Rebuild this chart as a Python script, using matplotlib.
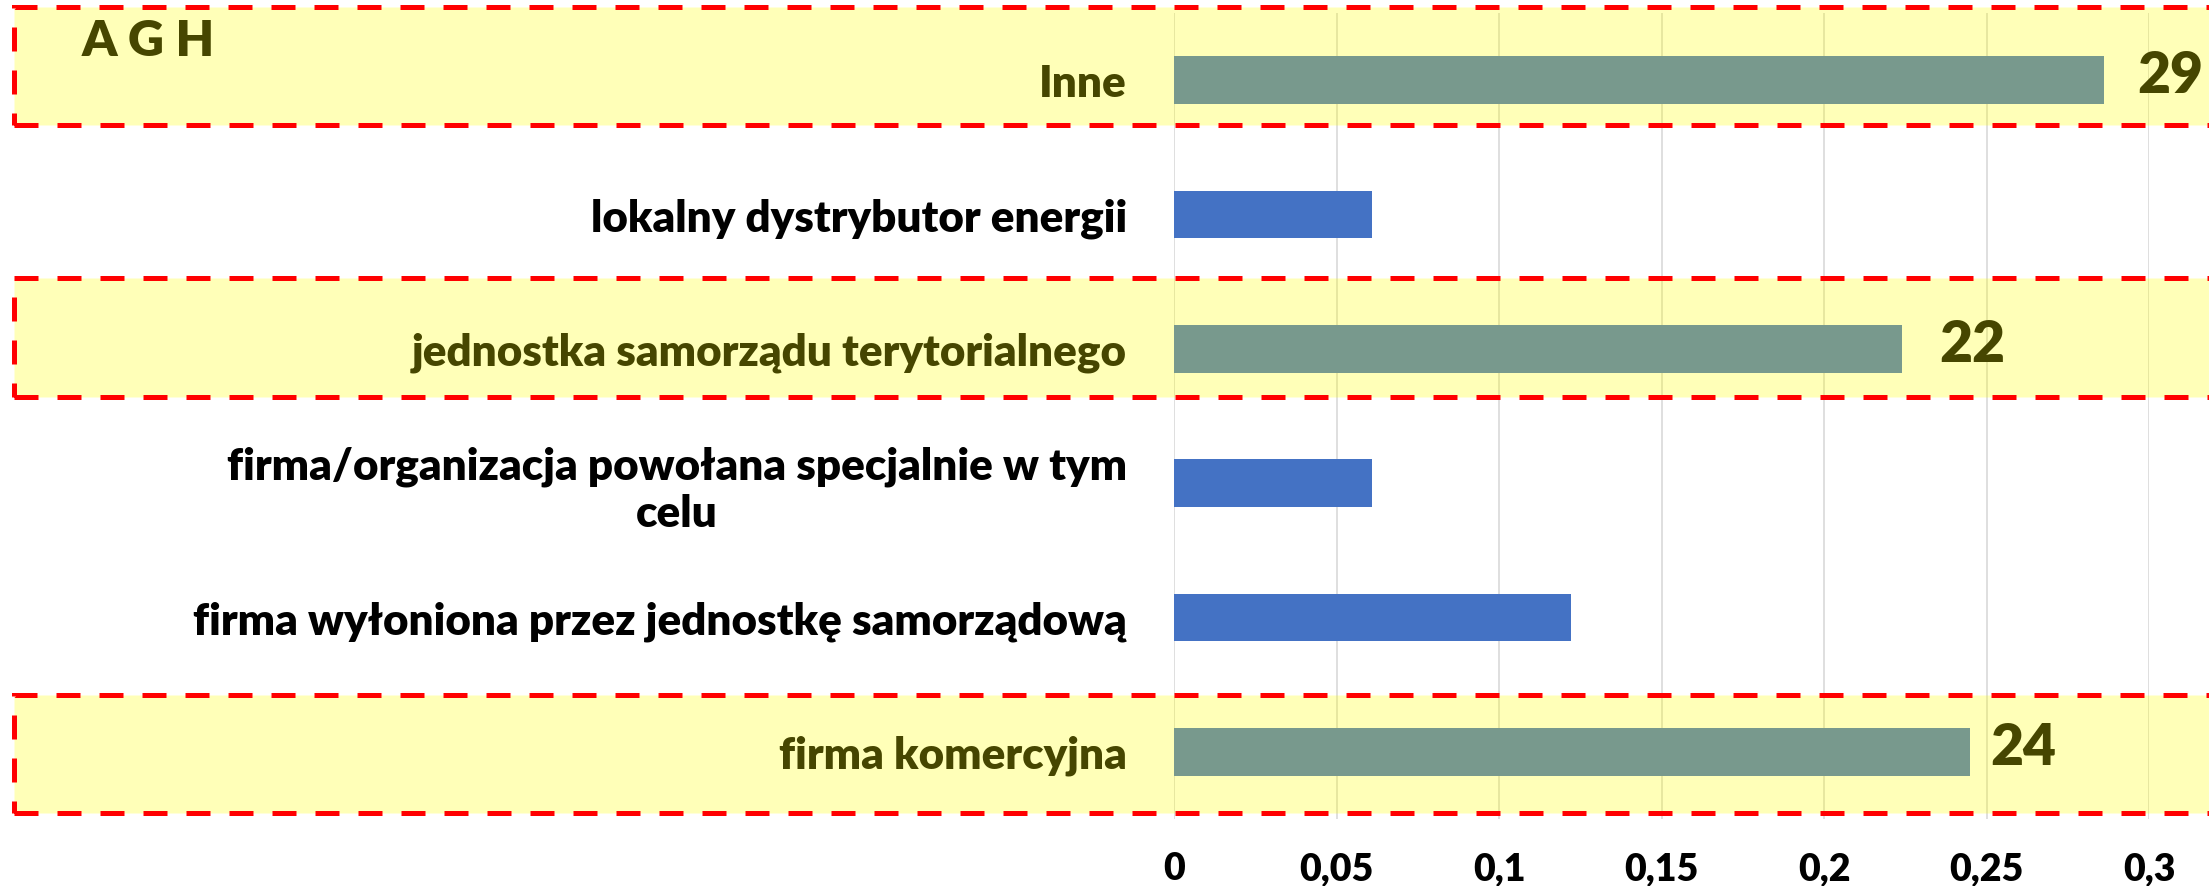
import matplotlib
matplotlib.use('Agg')
import matplotlib.pyplot as plt
import matplotlib.transforms as transforms
from matplotlib.patches import Rectangle

plt.rcParams['font.family'] = ['Lato', 'DejaVu Sans']

# Data (bottom to top)
categories = ['firma komercyjna',
              'firma wyłoniona przez jednostkę samorządową',
              'firma/organizacja powołana specjalnie w tym\ncelu',
              'jednostka samorządu terytorialnego',
              'lokalny dystrybutor energii',
              'Inne']
shares = [0.245, 0.122, 0.061, 0.224, 0.061, 0.286]
xticks = [0, 0.05, 0.1, 0.15, 0.2, 0.25, 0.3]
xtick_labels = ['0', '0,05', '0,1', '0,15', '0,2', '0,25', '0,3']

# highlighted rows and the numbers written next to them
highlight_rows = ['Inne', 'jednostka samorządu terytorialnego', 'firma komercyjna']
highlight_text = ['29', '22', '24']

fig = plt.figure(figsize=(22.09, 8.86), dpi=100)
ax = fig.add_axes([0.5315, 0.0756, 0.4414, 0.9097])

ypos = list(range(len(categories)))
ax.barh(ypos, shares, height=0.355, color='#4472C4', zorder=2)

ax.set_xlim(0, 0.3)
ax.set_ylim(-0.5, len(categories) - 0.5)
ax.set_xticks(xticks)
ax.set_xticklabels(xtick_labels, fontsize=27, fontweight='heavy')
ax.set_yticks(ypos)
ax.set_yticklabels(categories, fontsize=31.7, fontweight='heavy')
for lbl in ax.get_yticklabels():
    lbl.set_multialignment('center')
ax.tick_params(axis='x', length=0, pad=24)
ax.tick_params(axis='y', length=0, pad=34)
ax.grid(axis='x', color='#D9D9D9', linewidth=1.2, zorder=0)
ax.set_axisbelow(True)
for s in ax.spines.values():
    s.set_visible(False)

# numbers next to highlighted bars
offsets = [24, 27, 14]
for name, txt, off in zip(highlight_rows, highlight_text, offsets):
    i = categories.index(name)
    ax.annotate(txt, xy=(shares[i], ypos[i]), xytext=(off, 3), textcoords='offset points',
                ha='left', va='center', fontsize=41, fontweight='heavy', color='black',
                annotation_clip=False, zorder=3)

# AGH
ax.text(0.037, 0.979, 'A G H', transform=fig.transFigure, fontsize=36, fontweight='heavy',
        color='black', ha='left', va='top', zorder=3)

# yellow highlight boxes with red dashed frame
trans = transforms.blended_transform_factory(fig.transFigure, ax.transData)
box_extent = [(0.543, 0.335), (0.527, 0.359), (0.424, 0.454)]
for name, (up, down) in zip(highlight_rows, box_extent):
    i = categories.index(name)
    r = Rectangle((0.0063, ypos[i] - down), 1.02, up + down, transform=trans,
                  facecolor=(1, 1, 0, 0.28), edgecolor='#FF0000', linewidth=3.6,
                  linestyle=(0, (4.8, 3.8)), clip_on=False, zorder=10)
    ax.add_patch(r)

fig.savefig('out.png', dpi=100)
